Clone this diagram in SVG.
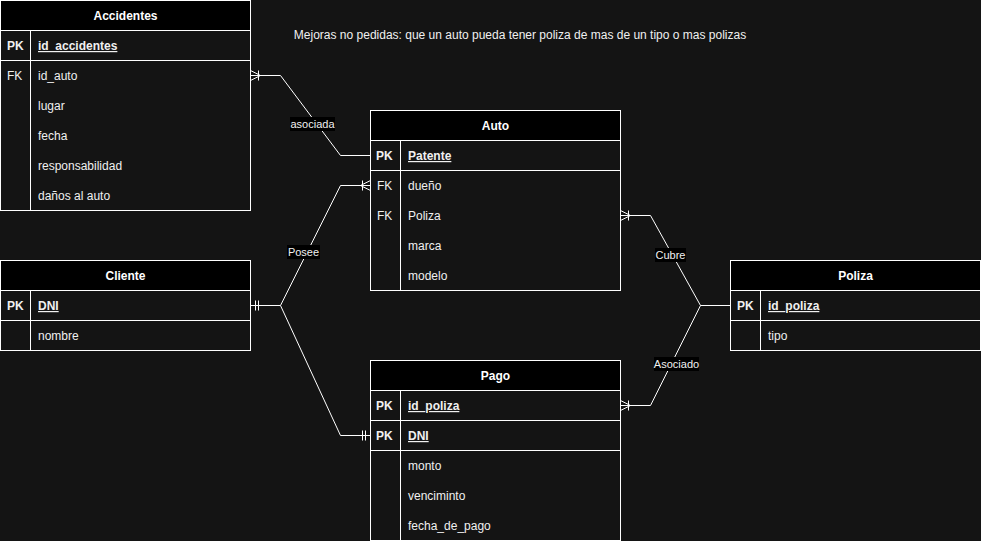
<svg xmlns="http://www.w3.org/2000/svg" width="981" height="541" viewBox="0 0 981 541">
<defs>
<style>
.bg{fill:#141414}
.hd{fill:#000;stroke:#fff;stroke-width:1}
.bx{fill:#141414;stroke:#fff;stroke-width:1}
.ln{stroke:#fff;stroke-width:1;fill:none}
.ht{font-family:"Liberation Sans",Arial,sans-serif;font-size:12px;font-weight:bold;fill:#fff;text-anchor:middle}
.pk{font-family:"Liberation Sans",Arial,sans-serif;font-size:12px;font-weight:bold;fill:#f0f0f0}
.pf{font-family:"Liberation Sans",Arial,sans-serif;font-size:12px;font-weight:bold;fill:#f0f0f0;text-decoration:underline}
.fk{font-family:"Liberation Sans",Arial,sans-serif;font-size:12px;fill:#f0f0f0}
.lb{font-family:"Liberation Sans",Arial,sans-serif;font-size:11px;fill:#f0f0f0;text-anchor:middle}
.lbg{fill:#000}
</style>
</defs>
<rect class="bg" x="0" y="0" width="981" height="541"/>
<text class="fk" x="520" y="39" text-anchor="middle">Mejoras no pedidas: que un auto pueda tener poliza de mas de un tipo o mas polizas</text>

<g id="connectors">
<path class="ln" d="M370.5 155.5 H340.5 L280.5 75.5 H250.5"/>
<path class="ln" d="M258.5 70.5 V80.5 M250.5 70.5 L260.5 75.5 L250.5 80.5"/>
<path class="ln" d="M250.5 305.5 H280.5 L340.5 185.5 H370.5"/>
<path class="ln" d="M362.5 180.5 V190.5 M370.5 180.5 L360.5 185.5 L370.5 190.5"/>
<path class="ln" d="M280.5 305.5 L340.5 435.5 H370.5"/>
<path class="ln" d="M255.5 300.5 V310.5 M258.5 300.5 V310.5"/>
<path class="ln" d="M362.5 430.5 V440.5 M365.5 430.5 V440.5"/>
<path class="ln" d="M730.5 305.5 H700.5 L650.5 215.5 H620.5"/>
<path class="ln" d="M628.5 210.5 V220.5 M620.5 210.5 L630.5 215.5 L620.5 220.5"/>
<path class="ln" d="M700.5 305.5 L650.5 405.5 H620.5"/>
<path class="ln" d="M628.5 400.5 V410.5 M620.5 400.5 L630.5 405.5 L620.5 410.5"/>
<rect class="lbg" x="290" y="117" width="45" height="14"/>
<text class="lb" x="312.5" y="128">asociada</text>
<rect class="lbg" x="287" y="245" width="33" height="14"/>
<text class="lb" x="303.5" y="256">Posee</text>
<rect class="lbg" x="655" y="248" width="31" height="14"/>
<text class="lb" x="670.5" y="259">Cubre</text>
<rect class="lbg" x="654" y="357" width="45" height="14"/>
<text class="lb" x="676.5" y="368">Asociado</text>
</g>

<g id="accidentes">
<rect class="bx" x="0.5" y="0.5" width="250" height="210"/>
<rect class="hd" x="0.5" y="0.5" width="250" height="30"/>
<text class="ht" x="125.5" y="20">Accidentes</text>
<path class="ln" d="M0.5 60.5 H250.5 M30.5 30.5 V210.5"/>
<text class="pk" x="7" y="50">PK</text>
<text class="pf" x="38" y="50">id_accidentes</text>
<text class="fk" x="7" y="80">FK</text>
<text class="fk" x="38" y="80">id_auto</text>
<text class="fk" x="38" y="110">lugar</text>
<text class="fk" x="38" y="140">fecha</text>
<text class="fk" x="38" y="170">responsabilidad</text>
<text class="fk" x="38" y="200">daños al auto</text>
</g>

<g id="auto">
<rect class="bx" x="370.5" y="110.5" width="250" height="180"/>
<rect class="hd" x="370.5" y="110.5" width="250" height="30"/>
<text class="ht" x="495.5" y="130">Auto</text>
<path class="ln" d="M370.5 170.5 H620.5 M400.5 140.5 V290.5"/>
<text class="pk" x="376" y="160">PK</text>
<text class="pf" x="408" y="160">Patente</text>
<text class="fk" x="377" y="190">FK</text>
<text class="fk" x="408" y="190">dueño</text>
<text class="fk" x="377" y="220">FK</text>
<text class="fk" x="408" y="220">Poliza</text>
<text class="fk" x="408" y="250">marca</text>
<text class="fk" x="408" y="280">modelo</text>
</g>

<g id="cliente">
<rect class="bx" x="0.5" y="260.5" width="250" height="90"/>
<rect class="hd" x="0.5" y="260.5" width="250" height="30"/>
<text class="ht" x="125.5" y="280">Cliente</text>
<path class="ln" d="M0.5 320.5 H250.5 M30.5 290.5 V350.5"/>
<text class="pk" x="7" y="310">PK</text>
<text class="pf" x="38" y="310">DNI</text>
<text class="fk" x="38" y="340">nombre</text>
</g>

<g id="poliza">
<rect class="bx" x="730.5" y="260.5" width="250" height="90"/>
<rect class="hd" x="730.5" y="260.5" width="250" height="30"/>
<text class="ht" x="855.5" y="280">Poliza</text>
<path class="ln" d="M730.5 320.5 H980.5 M760.5 290.5 V350.5"/>
<text class="pk" x="737" y="310">PK</text>
<text class="pf" x="768" y="310">id_poliza</text>
<text class="fk" x="768" y="340">tipo</text>
</g>

<g id="pago">
<rect class="bx" x="370.5" y="360.5" width="250" height="180"/>
<rect class="hd" x="370.5" y="360.5" width="250" height="30"/>
<text class="ht" x="495.5" y="380">Pago</text>
<path class="ln" d="M370.5 420.5 H620.5 M370.5 450.5 H620.5 M400.5 390.5 V540.5"/>
<text class="pk" x="376" y="410">PK</text>
<text class="pf" x="408" y="410">id_poliza</text>
<text class="pk" x="376" y="440">PK</text>
<text class="pf" x="408" y="440">DNI</text>
<text class="fk" x="408" y="470">monto</text>
<text class="fk" x="408" y="500">venciminto</text>
<text class="fk" x="408" y="530">fecha_de_pago</text>
</g>
</svg>
